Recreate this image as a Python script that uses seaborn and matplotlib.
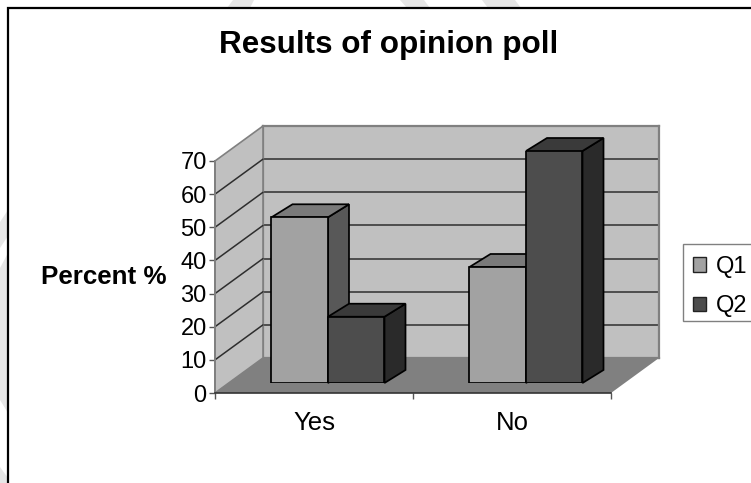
import matplotlib
matplotlib.use("Agg")
import matplotlib.pyplot as plt
from matplotlib.patches import Polygon, Patch
from matplotlib.lines import Line2D
import pandas as pd
import seaborn as sns

answers = ["Yes", "No"]
questions = ["Q1", "Q2"]
q1_percent = [50, 35]
q2_percent = [20, 70]
y_ticks = [0, 10, 20, 30, 40, 50, 60, 70]

W, H = 751, 483
FONT = ["Liberation Sans", "DejaVu Sans"]

FRONT_FACE = {"Q1": "#a2a2a2", "Q2": "#4d4d4d"}
TOP_FACE = {"Q1": "#7a7a7a", "Q2": "#3a3a3a"}
SIDE_FACE = {"Q1": "#585858", "Q2": "#2a2a2a"}
WALL = "#c0c0c0"
FLOOR = "#808080"
WALL_EDGE = "#808080"
GRID = "#2e2e2e"
EDGE_LW = 1.25

sns.set_theme(style="white")
plt.rcParams["font.family"] = FONT


def px_box(left, top, right, bottom):
    """Axes rectangle in figure fractions from pixel edges (origin top-left)."""
    return [left / W, 1 - bottom / H, (right - left) / W, (bottom - top) / H]


def px_pts(points):
    return [(x / W, 1 - y / H) for x, y in points]


df = pd.DataFrame({
    "answer": answers * 2,
    "question": [questions[0]] * 2 + [questions[1]] * 2,
    "percent": q1_percent + q2_percent,
})

fig = plt.figure(figsize=(W / 100, H / 100), dpi=100, facecolor="white")

# Faint background marks around the chart frame
for pts in (
    [(227, 8), (233, 0), (254, 0), (250, 8)],
    [(407, 8), (400, 0), (424, 0), (430, 8)],
    [(488, 8), (482, 0), (515, 0), (521, 8)],
    [(8, 210), (0, 222), (0, 248), (8, 236)],
    [(8, 253), (0, 268), (0, 400), (8, 413)],
    [(8, 483), (8, 478), (0, 467), (0, 483)],
):
    fig.add_artist(Polygon(px_pts(pts), closed=True, transform=fig.transFigure,
                           facecolor="#e6e6e6", edgecolor="none", zorder=0))

# Chart frame running off the right and bottom edges
fig.add_artist(Polygon(px_pts([(8, 8), (W + 5, 8), (W + 5, H + 5), (8, H + 5)]),
                       closed=True, transform=fig.transFigure, facecolor="white",
                       edgecolor="black", linewidth=1.6, zorder=0.5))

# Legend box, open past the right edge
fig.add_artist(Polygon(px_pts([(683, 244), (W + 5, 244), (W + 5, 321), (683, 321)]),
                       closed=True, transform=fig.transFigure, facecolor="white",
                       edgecolor="#808080", linewidth=1.0, zorder=0.6))

# Back wall of the box
ax_back = fig.add_axes(px_box(263, 126, 659, 358), zorder=1)
ax_back.set_facecolor(WALL)
ax_back.set_xlim(0, 1)
ax_back.set_ylim(0, max(y_ticks))
ax_back.set_xticks([])
ax_back.set_yticks(y_ticks)
ax_back.tick_params(left=False, labelleft=False)
ax_back.grid(axis="y", color=GRID, linewidth=1.1)
ax_back.set_axisbelow(True)
for spine in ax_back.spines.values():
    spine.set_color(WALL_EDGE)
    spine.set_linewidth(1.6)

# Front plane carrying the axes, with the side wall and floor sheared behind it
ax = fig.add_axes(px_box(215, 161, 611, 393), zorder=2)
ax.patch.set_visible(False)
ax.set_xlim(-0.5, len(answers) - 0.5)
ax.set_ylim(0, max(y_ticks))
DX = 2 * 48 / 396
DY = max(y_ticks) * 35 / 232
x0, x1 = ax.get_xlim()
ax.add_patch(Polygon([(x0, 0), (x0 + DX, DY), (x0 + DX, max(y_ticks) + DY), (x0, max(y_ticks))],
                     closed=True, facecolor=WALL, edgecolor=WALL_EDGE, linewidth=1.2,
                     clip_on=False, zorder=1))
ax.add_patch(Polygon([(x0, 0), (x1, 0), (x1 + DX, DY), (x0 + DX, DY)],
                     closed=True, facecolor=FLOOR, edgecolor="none",
                     clip_on=False, zorder=1))
for v in y_ticks[1:-1]:
    ax.add_line(Line2D([x0, x0 + DX], [v, v + DY], color=GRID, linewidth=1.1,
                       clip_on=False, zorder=2))
ax.set_xticks([x0, 0.5, x1], minor=True)
ax.set_xticks(range(len(answers)), answers)
ax.set_yticks(y_ticks)
ax.tick_params(axis="x", which="major", length=0, labelsize=18.5, pad=13, colors="black")
ax.tick_params(axis="x", which="minor", length=4.5, width=1.0, color="#555555")
ax.tick_params(axis="y", length=4.5, width=1.0, color="#555555", labelsize=17, pad=1.5, labelcolor="black")
ax.tick_params(left=True, bottom=True, which="both")
for name, spine in ax.spines.items():
    spine.set_visible(name in ("left", "bottom"))
ax.spines["left"].set_color(WALL_EDGE)
ax.spines["left"].set_linewidth(1.4)
ax.spines["bottom"].set_color("#333333")
ax.spines["bottom"].set_linewidth(1.2)
ax.set_ylabel("Percent %", rotation=0, fontsize=18.7, fontweight="bold",
              ha="center", va="center", color="black", labelpad=0)
ax.yaxis.set_label_coords((104 - 215) / 396, (393 - 277) / 232)

# Bars stand partway into the box, so their plane sits up and to the right
ax_bars = fig.add_axes(px_box(215 + 14, 161 - 10, 611 + 14, 393 - 10), zorder=3)
sns.barplot(data=df, x="answer", y="percent", hue="question", order=answers,
            hue_order=questions, palette=FRONT_FACE, width=113 / 198, gap=0,
            edgecolor="black", linewidth=EDGE_LW, saturation=1, legend=False, ax=ax_bars)
ax_bars.set_xlim(-0.5, len(answers) - 0.5)
ax_bars.set_ylim(0, max(y_ticks))
ax_bars.set_axis_off()

BAR_DX = 2 * 21 / 396
BAR_DY = max(y_ticks) * 13 / 232
for container, question, depth in zip(ax_bars.containers, questions, (2, 4)):
    for bar in container:
        left = bar.get_x()
        right = left + bar.get_width()
        height = bar.get_height()
        bar.set_zorder(6)
        ax_bars.add_patch(Polygon(
            [(right, 0), (right + BAR_DX, BAR_DY), (right + BAR_DX, height + BAR_DY), (right, height)],
            closed=True, facecolor=SIDE_FACE[question], edgecolor="black", linewidth=EDGE_LW,
            clip_on=False, zorder=depth))
        ax_bars.add_patch(Polygon(
            [(left, height), (right, height), (right + BAR_DX, height + BAR_DY), (left + BAR_DX, height + BAR_DY)],
            closed=True, facecolor=TOP_FACE[question], edgecolor="black", linewidth=EDGE_LW,
            clip_on=False, zorder=depth))

# Chart title and legend
fig.text(388.5 / W, 1 - 53 / H, "Results of opinion poll", fontsize=22.6, fontweight="bold",
         ha="center", va="baseline", color="black")
handles = [Patch(facecolor=FRONT_FACE[q], edgecolor="#222222", linewidth=1.0, label=q) for q in questions]
legend = ax_bars.legend(handles=handles, loc="upper left", bbox_to_anchor=(683 / W, 1 - 246 / H),
                        bbox_transform=fig.transFigure, borderaxespad=0, fontsize=17, frameon=False,
                        handlelength=0.56, handleheight=0.56, handletextpad=0.42,
                        labelspacing=0.73, borderpad=0.42, labelcolor="black")
legend.set_zorder(10)

fig.savefig("out.png", dpi=100)
